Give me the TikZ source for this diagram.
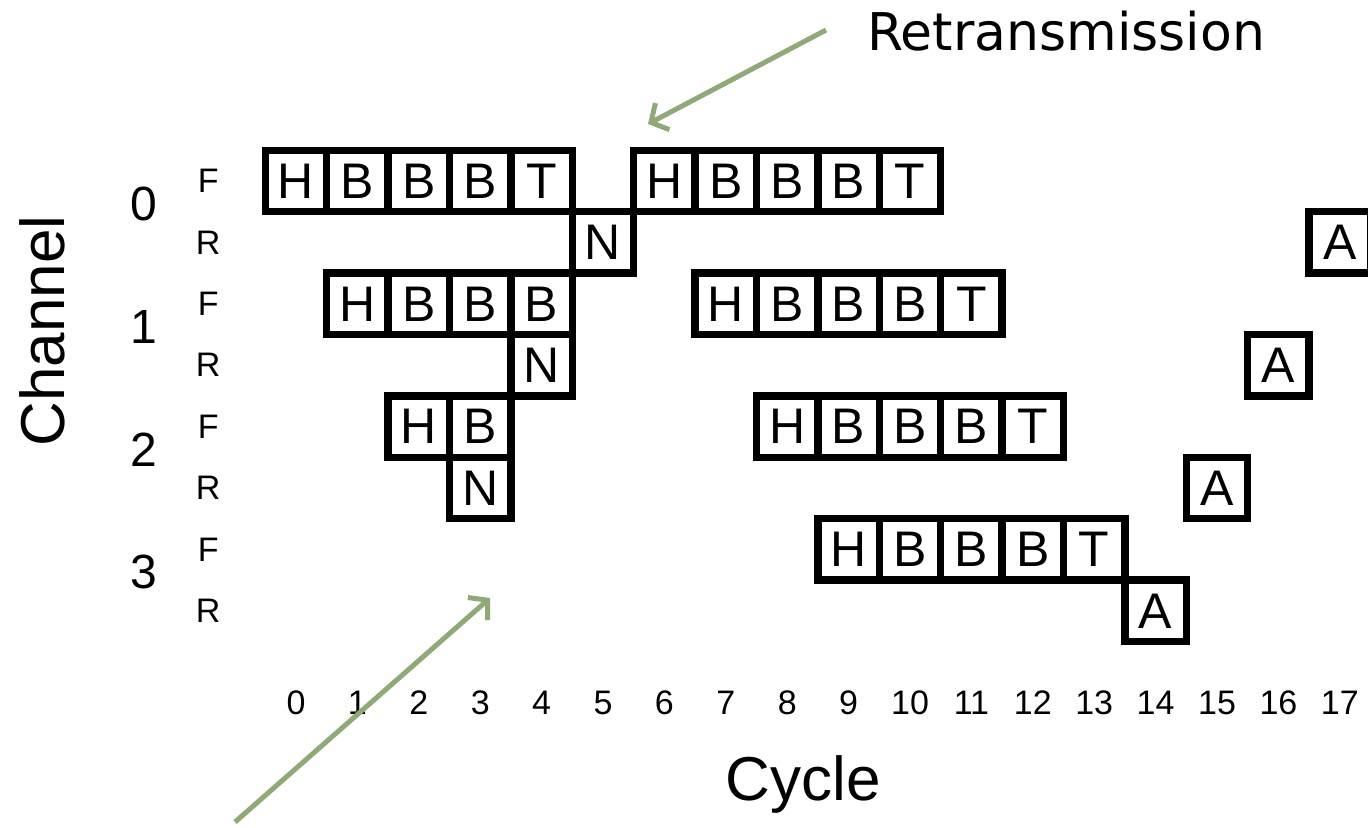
\documentclass[tikz,border=0pt]{standalone}
\usepackage{fontspec}
\setmainfont{Liberation Sans}
\newfontfamily\verdanafont{DejaVu Sans}
\usetikzlibrary{arrows.meta}
\definecolor{arrowgreen}{RGB}{143,170,120}
\tikzset{%
  cell/.style={fill=white, minimum size=27pt, inner sep=0pt,
               font=\fontsize{25}{25}\selectfont},
  rowlabel/.style={font=\fontsize{17}{17}\selectfont},
  chanlabel/.style={font=\fontsize{24}{24}\selectfont},
  cyclabel/.style={font=\fontsize{17}{17}\selectfont},
  axislabel/.style={font=\fontsize{31}{31}\selectfont},
  pointer/.style={draw=arrowgreen, line width=2.5pt,
                  -{Straight Barb[length=6.5pt,width=15pt]}}}

\begin{document}
\begin{tikzpicture}[x=0.5pt, y=-0.5pt]
\useasboundingbox (0,0) rectangle (1368,827);
\begin{scope}[shift={(296,181)}, x=30.7pt, y=-30.7pt]
% frames: row / first cycle / last cycle / letters
\foreach \r/\c/\e/\txt in {0/0/4/{H,B,B,B,T}, 0/6/10/{H,B,B,B,T},
    1/5/5/{N}, 1/17/17/{A},
    2/1/4/{H,B,B,B}, 2/7/11/{H,B,B,B,T},
    3/4/4/{N}, 3/16/16/{A},
    4/2/3/{H,B}, 4/8/12/{H,B,B,B,T},
    5/3/3/{N}, 5/15/15/{A},
    6/9/13/{H,B,B,B,T},
    7/14/14/{A}} {
  \fill (\c-0.56,\r-0.56) rectangle (\e+0.56,\r+0.56);
  \foreach \l [count=\k from \c] in \txt
    \node[cell] (c-\r-\k) at (\k,\r) {\l};
}
% forward / reverse rows
\foreach \lab [count=\i from 0] in {F,R,F,R,F,R,F,R}
  \node[rowlabel] (rl-\i) at (-1.43,\i) {\lab};
% channels
\foreach \i in {0,...,3}
  \node[chanlabel] (ch-\i) at (-2.48,2*\i+0.37) {\i};
% cycles
\foreach \k in {0,...,17}
  \node[cyclabel] (cy-\k) at (\k,8.5) {\k};
\end{scope}

\node[axislabel, anchor=base] (cycle) at (803,800) {Cycle};
\node[axislabel, rotate=90, anchor=base] (channel) at (64,331) {Channel};
\node[font=\verdanafont\fontsize{26}{26}\selectfont, anchor=base west]
  (retx) at (860,50) {Retransmission};

\coordinate (retx tail) at (826,30);
\coordinate (retx tip) at (648,124);
\coordinate (gap tail) at (235,822);
\coordinate (gap tip) at (490,598);
\draw[pointer] (retx tail) -- (retx tip);
\draw[pointer] (gap tail) -- (gap tip);
\end{tikzpicture}
\end{document}
